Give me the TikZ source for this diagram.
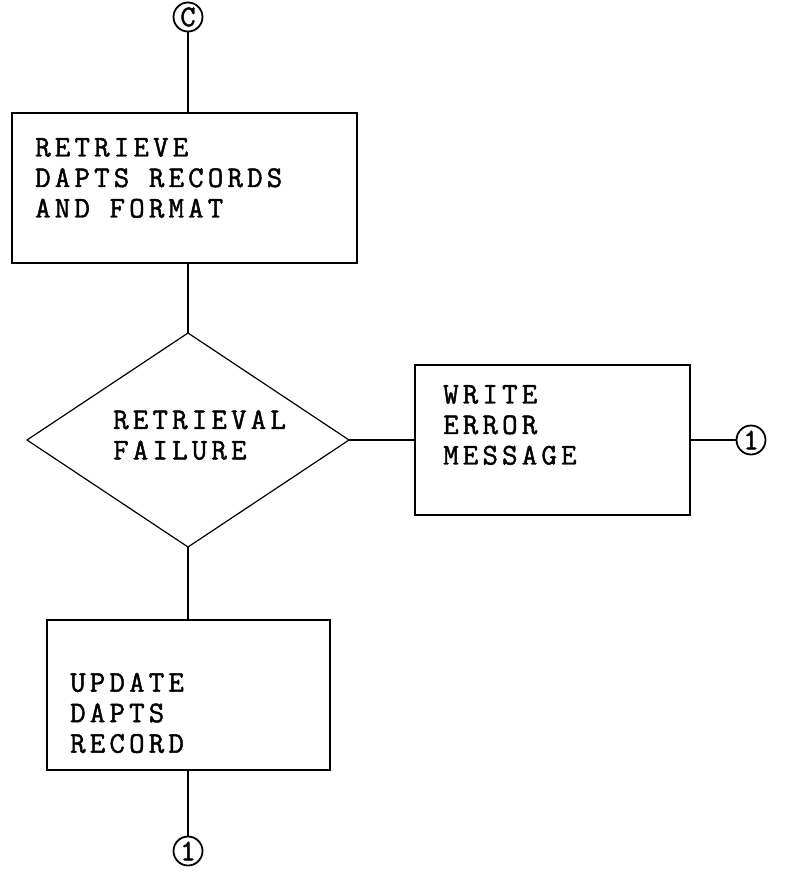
\documentclass[tikz,border=0pt]{standalone}
\usepackage{fontspec}
\newfontfamily\tw{Latin Modern Mono}[AutoFakeBold=1.5,LetterSpace=14]
\newfontfamily\twc{Latin Modern Mono}[AutoFakeBold=1.5]
\begin{document}
\begin{tikzpicture}[x=1pt,y=-1pt,
  boxline/.style={draw=black,line width=1.2pt},
  conn/.style={draw=black,line width=2pt},
  lbl/.style={font=\tw\bfseries\fontsize{30}{30.5}\selectfont,anchor=west,align=left,inner sep=0pt},
  onpage/.style={circle,draw=black,line width=1.8pt,minimum size=29pt,inner sep=0pt,font=\twc\bfseries\fontsize{30}{30}\selectfont}]
\useasboundingbox (0,0) rectangle (787,875);
\clip (0,0) rectangle (787,875);
% connector C
\node[onpage] (cC) at (188,17) {C};
% box 1
\node[boxline,minimum width=345pt,minimum height=150pt,inner sep=0pt] (b1) at (184.5,188) {};
\node[lbl] (t1) at (35,178) {RETRIEVE\\DAPTS RECORDS\\AND FORMAT};
% decision
\coordinate (dt) at (188,333);
\coordinate (dr) at (349,440);
\coordinate (db) at (188,547);
\coordinate (dl) at (27,440);
\draw[boxline] (dt) -- (dr) -- (db) -- (dl) -- cycle;
\node[lbl] (t2) at (113,435) {RETRIEVAL\\FAILURE};
% box 2
\node[boxline,minimum width=275pt,minimum height=150pt,inner sep=0pt] (b2) at (552.5,440) {};
\node[lbl] (t3) at (443,425) {WRITE\\ERROR\\MESSAGE};
\node[onpage] (c1r) at (751,440) {1};
% box 3
\node[boxline,minimum width=283pt,minimum height=150pt,inner sep=0pt] (b3) at (188.5,695) {};
\node[lbl] (t4) at (70,713) {UPDATE\\DAPTS\\RECORD};
\node[onpage] (c1b) at (188,851) {1};
% connectors
\draw[conn] (cC) -- (cC |- b1.north);
\draw[conn] (dt |- b1.south) -- (dt);
\draw[conn] (db) -- (db |- b3.north);
\draw[conn] (dr) -- (b2.west);
\draw[conn] (b2.east) -- (c1r);
\draw[conn] (c1b |- b3.south) -- (c1b);
\end{tikzpicture}
\end{document}
